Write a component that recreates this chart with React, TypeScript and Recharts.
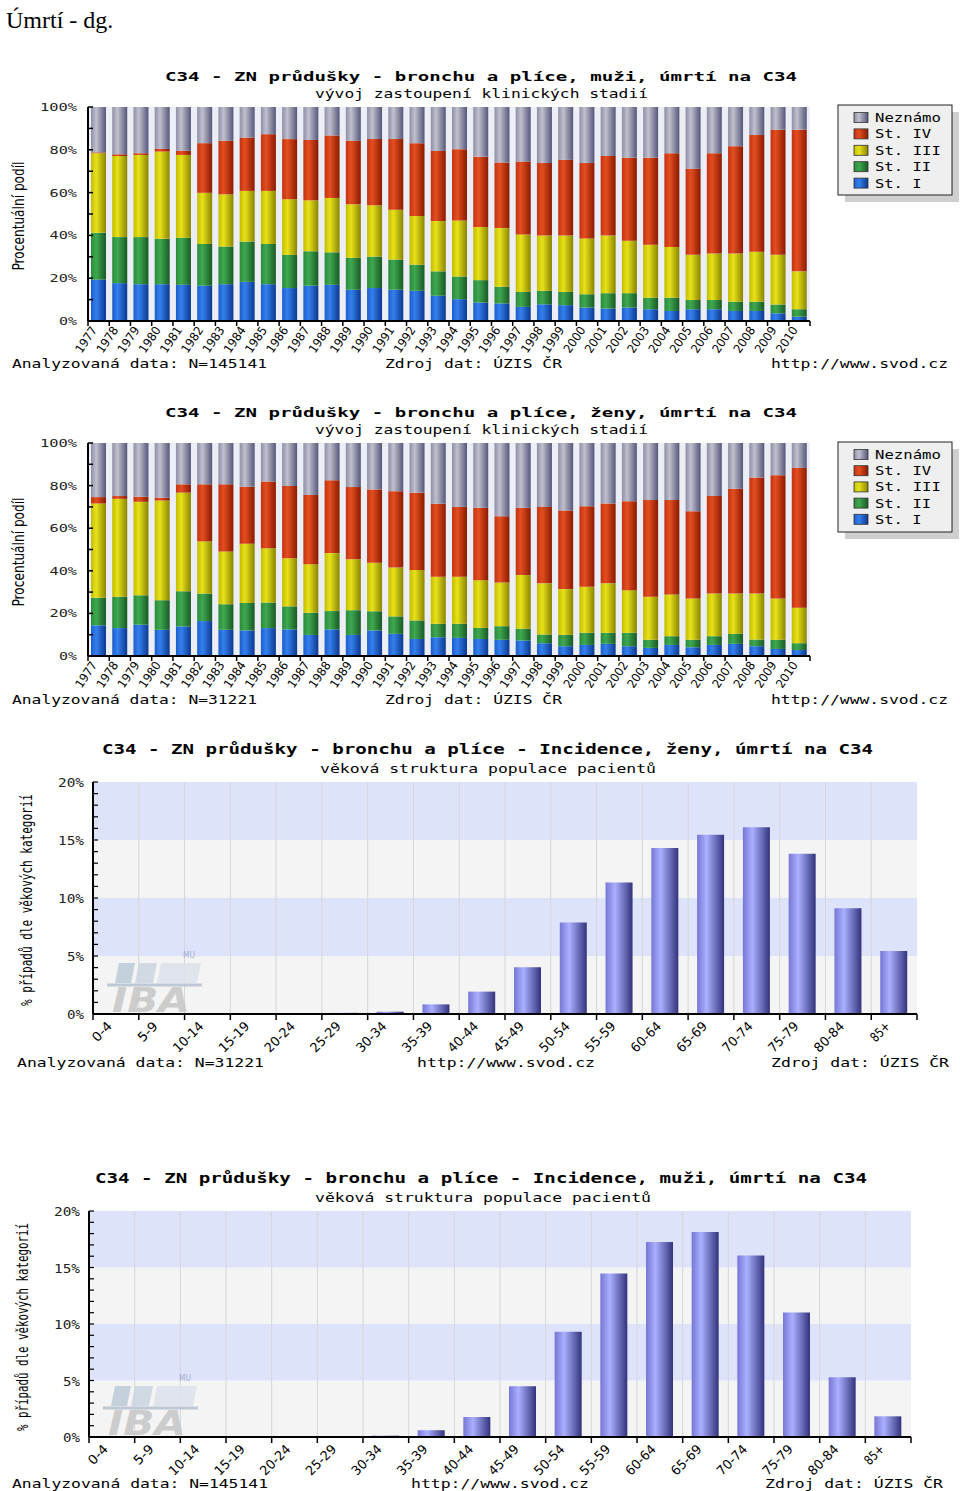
import React from 'react';
import { BarChart, Bar, XAxis, YAxis, ReferenceArea, ReferenceLine } from 'recharts';

const years = [
    '1977', '1978', '1979', '1980', '1981', '1982', '1983', '1984', '1985', '1986', '1987', '1988',
    '1989', '1990', '1991', '1992', '1993', '1994', '1995', '1996', '1997', '1998', '1999', '2000',
    '2001', '2002', '2003', '2004', '2005', '2006', '2007', '2008', '2009', '2010',
];

// muži - podíl klinických stadií (%)
const menStageI = [19.3, 17.7, 17.2, 17.2, 16.9, 16.5, 17.2, 18.3, 17.2, 15.4, 16.5, 16.9, 14.6, 15.4, 14.6, 14.1, 11.8, 10.2, 8.6, 8.2, 6.6, 7.8, 7.4, 6.3, 5.8, 6.3, 5.5, 4.7, 5.5, 5.5, 4.7, 4.7, 3.6, 2.0];
const menStageII = [21.9, 21.5, 22.0, 21.2, 22.0, 19.5, 17.6, 18.8, 18.8, 15.5, 16.1, 15.2, 14.9, 14.7, 14.1, 12.2, 11.4, 10.6, 10.5, 7.8, 7.0, 6.3, 6.2, 6.2, 7.2, 6.7, 5.4, 6.2, 4.3, 4.3, 4.3, 4.3, 4.1, 3.5];
const menStageIII = [37.2, 37.9, 38.4, 40.8, 38.7, 23.9, 24.4, 23.7, 24.8, 26.0, 23.8, 25.4, 25.0, 24.0, 23.3, 22.8, 23.5, 26.2, 24.8, 27.4, 26.8, 25.8, 26.3, 26.1, 26.9, 24.5, 24.7, 23.7, 21.1, 21.7, 22.5, 23.4, 23.2, 17.7];
const menStageIV = [0.4, 0.8, 0.8, 1.2, 2.0, 23.2, 25.0, 24.9, 26.5, 28.1, 28.2, 29.2, 29.7, 30.9, 33.0, 34.0, 32.8, 33.3, 32.9, 30.7, 34.1, 33.9, 35.4, 35.2, 37.2, 38.8, 40.7, 43.8, 40.2, 46.9, 50.2, 54.5, 58.5, 66.2];
const menUnknown = [21.2, 22.1, 21.6, 19.6, 20.4, 16.9, 15.8, 14.3, 12.7, 15.0, 15.4, 13.3, 15.8, 15.0, 15.0, 16.9, 20.5, 19.7, 23.2, 25.9, 25.5, 26.2, 24.7, 26.2, 22.9, 23.7, 23.7, 21.6, 28.9, 21.6, 18.3, 13.1, 10.6, 10.6];

// ženy - podíl klinických stadií (%)
const womenStageI = [14.4, 13.1, 14.7, 12.3, 13.9, 16.4, 12.3, 12.0, 13.1, 12.5, 9.9, 12.5, 9.9, 12.0, 10.4, 8.0, 8.8, 8.5, 8.0, 7.6, 7.3, 6.0, 4.6, 5.2, 5.7, 4.6, 3.8, 5.2, 4.1, 5.2, 5.7, 4.6, 3.3, 2.8];
const womenStageII = [12.9, 14.7, 13.8, 13.9, 16.5, 12.9, 12.0, 12.9, 12.0, 10.8, 10.4, 8.6, 11.6, 9.0, 8.2, 8.7, 6.3, 6.6, 5.2, 6.4, 5.5, 4.1, 5.3, 5.7, 5.2, 6.3, 3.8, 4.1, 3.5, 4.1, 4.7, 3.1, 4.3, 3.2];
const womenStageIII = [44.3, 46.0, 43.9, 46.8, 46.3, 24.5, 24.8, 27.8, 25.5, 22.6, 22.8, 27.2, 23.9, 22.8, 22.9, 23.7, 22.1, 22.1, 22.4, 20.5, 25.2, 24.0, 21.5, 21.6, 23.2, 20.0, 20.2, 19.6, 19.4, 20.0, 18.9, 21.6, 19.4, 16.7];
const womenStageIV = [3.0, 1.3, 2.4, 1.3, 3.9, 26.8, 31.5, 26.8, 31.3, 33.9, 32.5, 34.2, 33.9, 34.4, 35.9, 36.3, 34.3, 32.8, 34.0, 31.1, 31.6, 35.8, 36.9, 37.8, 37.5, 41.8, 45.4, 44.3, 41.0, 45.8, 49.2, 54.5, 57.9, 65.6];
const womenUnknown = [25.4, 24.9, 25.2, 25.7, 19.4, 19.4, 19.4, 20.5, 18.1, 20.2, 24.4, 17.5, 20.7, 21.8, 22.6, 23.3, 28.5, 30.0, 30.4, 34.4, 30.4, 30.1, 31.7, 29.7, 28.4, 27.3, 26.8, 26.8, 32.0, 24.9, 21.5, 16.2, 15.1, 11.7];

const ageGroups = ['0-4', '5-9', '10-14', '15-19', '20-24', '25-29', '30-34', '35-39', '40-44', '45-49', '50-54', '55-59', '60-64', '65-69', '70-74', '75-79', '80-84', '85+'];
const womenAgeShare = [0, 0, 0, 0, 0.02, 0.1, 0.2, 0.83, 1.93, 4.03, 7.88, 11.34, 14.3, 15.45, 16.09, 13.81, 9.12, 5.44];
const menAgeShare = [0, 0, 0, 0, 0, 0.03, 0.12, 0.6, 1.77, 4.49, 9.31, 14.48, 17.25, 18.14, 16.07, 11.02, 5.29, 1.83];

const pctTicks = [0, 10, 20, 30, 40, 50, 60, 70, 80, 90, 100];
const ageTicks = [0, 1, 2, 3, 4, 5, 6, 7, 8, 9, 10, 11, 12, 13, 14, 15, 16, 17, 18, 19, 20];
const ageBands = [[0, 5], [5, 10], [10, 15], [15, 20]];

const MONO = '"DejaVu Sans Mono", monospace';
const SANS = '"DejaVu Sans", sans-serif';

const stageSeries = [
    { key: 's1', name: 'St. I', c: ['#1b5dca', '#3580ee', '#0b3890'] },
    { key: 's2', name: 'St. II', c: ['#2a8a3a', '#3fa850', '#185a24'] },
    { key: 's3', name: 'St. III', c: ['#c2bc00', '#e8e21a', '#8a8400'] },
    { key: 's4', name: 'St. IV', c: ['#c23212', '#e44e20', '#8a1a00'] },
    { key: 'unk', name: 'Neznámo', c: ['#8e8ea6', '#c0c0ce', '#56567a'] },
];

const buildStageRows = (s1: number[], s2: number[], s3: number[], s4: number[], unk: number[]) =>
    years.map((year, i) => ({ year, s1: s1[i], s2: s2[i], s3: s3[i], s4: s4[i], unk: unk[i] }));

const menRows = buildStageRows(menStageI, menStageII, menStageIII, menStageIV, menUnknown);
const womenRows = buildStageRows(womenStageI, womenStageII, womenStageIII, womenStageIV, womenUnknown);
const womenAgeRows = ageGroups.map((g, i) => ({ g, v: womenAgeShare[i] }));
const menAgeRows = ageGroups.map((g, i) => ({ g, v: menAgeShare[i] }));

function Grad({ id, c }: { id: string; c: string[] }) {
    return (
        <linearGradient id={id} x1="0" y1="0" x2="1" y2="0">
            <stop offset="0%" stopColor={c[0]} />
            <stop offset="35%" stopColor={c[1]} />
            <stop offset="100%" stopColor={c[2]} />
        </linearGradient>
    );
}

function Txt(props: any) {
    const { x, y, w, size = 12, bold = false, anchor = 'start', rotate, family = MONO, fill = '#000', italic, children } = props;
    return (
        <text
            x={x}
            y={y}
            fontSize={size}
            fontWeight={bold ? 'bold' : 'normal'}
            fontStyle={italic ? 'italic' : 'normal'}
            fontFamily={family}
            fill={fill}
            textAnchor={anchor}
            textLength={w}
            lengthAdjust="spacingAndGlyphs"
            transform={rotate !== undefined ? `rotate(${rotate} ${x} ${y})` : undefined}
        >
            {children}
        </text>
    );
}

function StageChart({ id, rows, top, plotH }: { id: string; rows: any[]; top: number; plotH: number }) {
    const left = 88;
    const right = 810;
    const step = (right - left) / rows.length;

    const yearTick = (p: any) => {
        const { x, y, payload, index } = p;
        return (
            <g>
                <line x1={x - step / 2} x2={x - step / 2} y1={y} y2={y + 5} stroke="#000" strokeWidth={1.5} />
                {index === rows.length - 1 && (
                    <line x1={x + step / 2} x2={x + step / 2} y1={y} y2={y + 5} stroke="#000" strokeWidth={1.5} />
                )}
                <text
                    x={x - 1}
                    y={y + 9}
                    transform={`rotate(-56 ${x - 1} ${y + 9})`}
                    textAnchor="end"
                    fontSize={12}
                    fontFamily={SANS}
                    textLength={29}
                    lengthAdjust="spacingAndGlyphs"
                    fill="#000"
                >
                    {payload.value}
                </text>
            </g>
        );
    };

    const yTick = (p: any) => {
        const { x, y, payload } = p;
        const v = payload.value;
        const label = `${v}%`;
        return (
            <g>
                <line x1={x} x2={x + 5} y1={y} y2={y} stroke="#000" strokeWidth={1.5} />
                {v % 20 === 0 && (
                    <text x={x - 11} y={y + 4} textAnchor="end" fontSize={11} fontFamily={MONO}
                        textLength={label.length * 9.5 - 1} lengthAdjust="spacingAndGlyphs" fill="#222">
                        {label}
                    </text>
                )}
            </g>
        );
    };

    return (
        <div style={{ position: 'absolute', left: 0, top: top - 10 }}>
            <BarChart width={960} height={plotH + 60} data={rows} barSize={15}
                margin={{ top: 10, right: 960 - right, bottom: 0, left: 0 }}>
                <defs>
                    {stageSeries.map((s) => <Grad key={s.key} id={`${id}-${s.key}`} c={s.c} />)}
                </defs>
                <ReferenceArea y1={0} y2={100} fill="#eceef6" fillOpacity={1} stroke="none" />
                <XAxis dataKey="year" interval={0} height={50} tickSize={0} tickMargin={0} tick={yearTick}
                    axisLine={{ stroke: '#000', strokeWidth: 2 }} tickLine={false} />
                <YAxis type="number" domain={[0, 100]} ticks={pctTicks} interval={0} width={left} tickSize={0} tickMargin={0}
                    tick={yTick} axisLine={{ stroke: '#000', strokeWidth: 2 }} tickLine={false} allowDataOverflow />
                {stageSeries.map((s) => (
                    <Bar key={s.key} dataKey={s.key} stackId="a" fill={`url(#${id}-${s.key})`} isAnimationActive={false} />
                ))}
            </BarChart>
        </div>
    );
}

function AgeChart({ id, rows, top, plotH, left, right }: { id: string; rows: any[]; top: number; plotH: number; left: number; right: number }) {
    const step = (right - left) / rows.length;

    const groupTick = (p: any) => {
        const { x, y, payload, index } = p;
        const label = String(payload.value);
        return (
            <g>
                <line x1={x - step / 2} x2={x - step / 2} y1={y} y2={y + 6} stroke="#000" strokeWidth={1.5} />
                {index === rows.length - 1 && (
                    <line x1={x + step / 2} x2={x + step / 2} y1={y} y2={y + 6} stroke="#000" strokeWidth={1.5} />
                )}
                <text x={x - 3} y={y + 13} transform={`rotate(-45 ${x - 3} ${y + 13})`} textAnchor="end"
                    fontSize={13} fontFamily={SANS} textLength={label.length * 7.4} lengthAdjust="spacingAndGlyphs" fill="#000">
                    {label}
                </text>
            </g>
        );
    };

    const yTick = (p: any) => {
        const { x, y, payload } = p;
        const v = payload.value;
        const label = `${v}%`;
        return (
            <g>
                <line x1={x} x2={x + 5} y1={y} y2={y} stroke="#000" strokeWidth={1.2} />
                {v % 5 === 0 && (
                    <text x={x - 9} y={y + 5} textAnchor="end" fontSize={13} fontFamily={MONO}
                        textLength={label.length * 9 - 1} lengthAdjust="spacingAndGlyphs" fill="#222">
                        {label}
                    </text>
                )}
            </g>
        );
    };

    return (
        <div style={{ position: 'absolute', left: 0, top: top - 10 }}>
            <BarChart width={960} height={plotH + 60} data={rows} barSize={27}
                margin={{ top: 10, right: 960 - right, bottom: 0, left: 0 }}>
                <defs>
                    <Grad id={`${id}-bar`} c={['#7676d4', '#aab0ff', '#33337c']} />
                </defs>
                {ageBands.map(([a, b], i) => (
                    <ReferenceArea key={`band-${a}`} y1={a} y2={b} fill={i % 2 === 0 ? '#f4f4f4' : '#dde3fb'}
                        fillOpacity={1} stroke="none" />
                ))}
                {rows.map((r) => (
                    <ReferenceLine key={`gl-${r.g}`} x={r.g} position="start" stroke="#d6d6d6" strokeWidth={1} />
                ))}
                <XAxis dataKey="g" interval={0} height={50} tickSize={0} tickMargin={0} tick={groupTick}
                    axisLine={{ stroke: '#000', strokeWidth: 2 }} tickLine={false} />
                <YAxis type="number" domain={[0, 20]} ticks={ageTicks} interval={0} width={left} tickSize={0} tickMargin={0}
                    tick={yTick} axisLine={{ stroke: '#000', strokeWidth: 2 }} tickLine={false} allowDataOverflow />
                <Bar dataKey="v" fill={`url(#${id}-bar)`} isAnimationActive={false} />
            </BarChart>
        </div>
    );
}

function StageLegend({ x, y, rowH }: { x: number; y: number; rowH: number }) {
    const order = [...stageSeries].reverse();
    return (
        <g>
            <rect x={x + 7} y={y + 7} width={114} height={90} fill="#cfcfcf" />
            <rect x={x} y={y} width={114} height={90} fill="#efefef" stroke="#222" strokeWidth={1} />
            {order.map((s, i) => {
                const cy = y + 12.5 + i * rowH;
                return (
                    <g key={s.key}>
                        <rect x={x + 16} y={cy - 5} width={14} height={10} fill={`url(#lg-${s.key})`} stroke="#333" strokeWidth={0.8} />
                        <Txt x={x + 37} y={cy + 4.5} w={s.name.length * 9.7 - 2} size={12}>{s.name}</Txt>
                    </g>
                );
            })}
        </g>
    );
}

function Watermark({ px, py }: { px: number; py: number }) {
    return (
        <g opacity={0.85}>
            <polygon points={`${px + 22},${py - 31} ${px + 26},${py - 51} ${px + 42},${py - 51} ${px + 38},${py - 31}`} fill="#bccbd9" />
            <polygon points={`${px + 42},${py - 31} ${px + 46},${py - 51} ${px + 64},${py - 51} ${px + 60},${py - 31}`} fill="#cbd5e2" />
            <polygon points={`${px + 64},${py - 31} ${px + 68},${py - 51} ${px + 108},${py - 51} ${px + 104},${py - 31}`} fill="#dde3ec" />
            <line x1={px + 14} x2={px + 109} y1={py - 29} y2={py - 29} stroke="#b5c0cf" strokeWidth={3} />
            <Txt x={px + 19} y={py - 2} w={78} size={34} bold italic family={SANS} fill="#c6c6c6">IBA</Txt>
            <Txt x={px + 90} y={py - 56} w={12} size={8} family={SANS} fill="#9aa6cc">MU</Txt>
        </g>
    );
}

export default function App() {
    return (
        <div style={{ position: 'absolute', left: 0, top: 0, width: 960, height: 1491, background: '#fff' }}>
            <StageChart id="m" rows={menRows} top={107} plotH={214} />
            <StageChart id="w" rows={womenRows} top={443} plotH={213} />
            <AgeChart id="wa" rows={womenAgeRows} top={782} plotH={232} left={93} right={917} />
            <AgeChart id="ma" rows={menAgeRows} top={1211} plotH={226} left={89} right={911} />

            <svg width={960} height={1491} style={{ position: 'absolute', left: 0, top: 0, pointerEvents: 'none' }}>
                <defs>
                    {stageSeries.map((s) => <Grad key={s.key} id={`lg-${s.key}`} c={s.c} />)}
                </defs>

                <text x={6} y={28} fontSize={24} fontFamily='"Liberation Serif", serif' fill="#000">Úmrtí - dg.</text>

                {/* graf 1 - muži, stadia */}
                <Txt x={165} y={80.5} w={632} size={13} bold>C34 - ZN průdušky - bronchu a plíce, muži, úmrtí na C34</Txt>
                <Txt x={315} y={97.5} w={333} size={12}>vývoj zastoupení klinických stadií</Txt>
                <Txt x={24} y={216} w={109} size={15} family={SANS} anchor="middle" rotate={-90}>Procentuální podíl</Txt>
                <Txt x={12} y={368} w={255} size={12}>Analyzovaná data: N=145141</Txt>
                <Txt x={385} y={368} w={177} size={12}>Zdroj dat: ÚZIS ČR</Txt>
                <Txt x={771} y={368} w={177} size={12}>http://www.svod.cz</Txt>
                <StageLegend x={838} y={105} rowH={16.4} />

                {/* graf 2 - ženy, stadia */}
                <Txt x={165} y={417} w={632} size={13} bold>C34 - ZN průdušky - bronchu a plíce, ženy, úmrtí na C34</Txt>
                <Txt x={315} y={434} w={333} size={12}>vývoj zastoupení klinických stadií</Txt>
                <Txt x={24} y={552} w={109} size={15} family={SANS} anchor="middle" rotate={-90}>Procentuální podíl</Txt>
                <Txt x={12} y={704} w={245} size={12}>Analyzovaná data: N=31221</Txt>
                <Txt x={385} y={704} w={177} size={12}>Zdroj dat: ÚZIS ČR</Txt>
                <Txt x={771} y={704} w={177} size={12}>http://www.svod.cz</Txt>
                <StageLegend x={838} y={442} rowH={16.2} />

                {/* graf 3 - ženy, věk */}
                <Watermark px={93} py={1014} />
                <Txt x={102} y={754} w={771} size={14} bold>C34 - ZN průdušky - bronchu a plíce - Incidence, ženy, úmrtí na C34</Txt>
                <Txt x={320} y={773} w={336} size={13}>věková struktura populace pacientů</Txt>
                <Txt x={32} y={900} w={212} size={16} anchor="middle" rotate={-90}>% případů dle věkových kategorií</Txt>
                <Txt x={17} y={1067} w={247} size={13}>Analyzovaná data: N=31221</Txt>
                <Txt x={417} y={1067} w={178} size={13}>http://www.svod.cz</Txt>
                <Txt x={771} y={1067} w={178} size={13}>Zdroj dat: ÚZIS ČR</Txt>

                {/* graf 4 - muži, věk */}
                <Watermark px={89} py={1437} />
                <Txt x={95} y={1183} w={772} size={14} bold>C34 - ZN průdušky - bronchu a plíce - Incidence, muži, úmrtí na C34</Txt>
                <Txt x={315} y={1202} w={336} size={13}>věková struktura populace pacientů</Txt>
                <Txt x={28} y={1327} w={208} size={16} anchor="middle" rotate={-90}>% případů dle věkových kategorií</Txt>
                <Txt x={12} y={1488} w={256} size={13}>Analyzovaná data: N=145141</Txt>
                <Txt x={411} y={1488} w={178} size={13}>http://www.svod.cz</Txt>
                <Txt x={765} y={1488} w={178} size={13}>Zdroj dat: ÚZIS ČR</Txt>
            </svg>
        </div>
    );
}
